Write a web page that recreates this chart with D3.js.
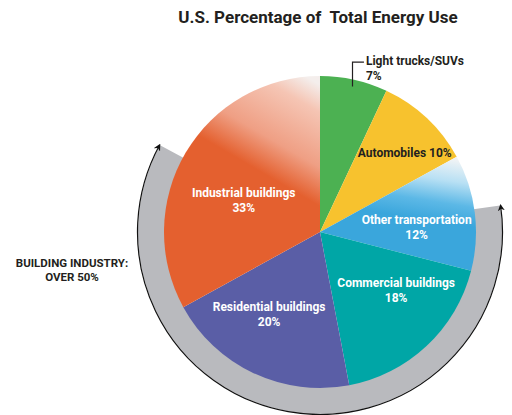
<!DOCTYPE html>
<html>
<head>
<meta charset="utf-8">
<script src="https://cdn.jsdelivr.net/npm/d3@7"></script>
<style>
	body { margin: 0; background: #fff; }
	svg text { font-family: "Liberation Sans Narrow", "Roboto", sans-serif; font-weight: bold; white-space: pre; }
</style>
</head>
<body>
<div id="chart"></div>
<script>
// U.S. share of total energy use, by sector (pie + building bracket)

const categories = ["Light trucks/SUVs", "Automobiles", "Other transportation", "Commercial buildings", "Residential buildings", "Industrial buildings"];
const values = [7, 10, 12, 18, 20, 33];
const titleText = "U.S. Percentage of  Total Energy Use";
const bracketLabel = ["BUILDING INDUSTRY:", "OVER 50%"];

const width = 512, height = 415;
const cx = 320, cy = 232, radius = 156, ringOuter = 182;

const colors = ["#4cb152", "#f7c22e", "url(#gradBlue)", "#00a6a6", "#5a5ea6", "url(#gradOrange)"];
const textColors = ["#231f20", "#231f20", "#fff", "#fff", "#fff", "#fff"];
// label anchor in polar coords around pie centre: angle (deg), radius
const labelPos = [
	{ a: 15.4, r: 173, anchor: "start", inline: false },
	{ a: 48.6, r: 113, anchor: "middle", inline: true },
	{ a: 85.3, r: 97, anchor: "middle", inline: false },
	{ a: 125.9, r: 94, anchor: "middle", inline: false },
	{ a: 212.8, r: 94, anchor: "middle", inline: false },
	{ a: 294.7, r: 84, anchor: "middle", inline: false }
];

const rad = d => d * Math.PI / 180;

let svg = d3.select("#chart")
	.append("svg")
	.attr("width", width)
	.attr("height", height)
	.attr("viewBox", [0, 0, width, height]);

let defs = svg.append("defs");

// gradients are in the pie group's coords (origin = pie centre)
let gOrange = defs.append("linearGradient")
	.attr("id", "gradOrange")
	.attr("gradientUnits", "userSpaceOnUse")
	.attr("x1", -65).attr("y1", -47).attr("x2", -5).attr("y2", -150);
[[0, "#e4602f"], [0.12, "#e4602f"], [0.4, "#ef9f84"], [0.8, "#f5c5b4"], [1, "#f4eeec"]]
	.forEach(s => gOrange.append("stop").attr("offset", s[0]).attr("stop-color", s[1]));

let gBlue = defs.append("linearGradient")
	.attr("id", "gradBlue")
	.attr("gradientUnits", "userSpaceOnUse")
	.attr("x1", 130).attr("y1", -74).attr("x2", 120).attr("y2", -10);
[[0, "#f2f4f5"], [0.35, "#b8e0f4"], [0.7, "#5cb8e6"], [1, "#3aa6dc"]]
	.forEach(s => gBlue.append("stop").attr("offset", s[0]).attr("stop-color", s[1]));

defs.append("marker")
	.attr("id", "arrow")
	.attr("viewBox", "0 -5 10 10")
	.attr("refX", 8)
	.attr("refY", 0)
	.attr("markerWidth", 7)
	.attr("markerHeight", 7)
	.attr("markerUnits", "userSpaceOnUse")
	.attr("orient", "auto-start-reverse")
	.append("path")
	.attr("d", "M0,-5L10,0L0,5L3,0Z")
	.attr("fill", "#111");

// title
svg.append("text")
	.attr("x", 318)
	.attr("y", 23)
	.attr("text-anchor", "middle")
	.attr("font-size", 17)
	.attr("fill", "#231f20")
	.text(titleText);

let g = svg.append("g").attr("transform", `translate(${cx},${cy})`);

// gray bracket ring round the building slices
const ringStart = rad(81.6), ringEnd = rad(298.5);
g.append("path")
	.attr("d", d3.arc()({ innerRadius: radius - 1, outerRadius: ringOuter, startAngle: ringStart, endAngle: ringEnd }))
	.attr("fill", "#b9babe");

let bracket = d3.path();
bracket.arc(0, 0, ringOuter + 0.5, ringStart - Math.PI / 2, ringEnd - Math.PI / 2);
g.append("path")
	.attr("d", bracket.toString())
	.attr("fill", "none")
	.attr("stroke", "#111")
	.attr("stroke-width", 1.2)
	.attr("marker-start", "url(#arrow)")
	.attr("marker-end", "url(#arrow)");

let pie = d3.pie().sort(null).value(d => d);
let arcs = pie(values);
let arc = d3.arc().innerRadius(0).outerRadius(radius);

g.selectAll("path.slice")
	.data(arcs)
	.join("path")
	.attr("class", "slice")
	.attr("d", arc)
	.attr("fill", (d, i) => colors[i]);

// slice labels
arcs.forEach((d, i) => {
	let p = labelPos[i];
	let [x, y] = d3.pointRadial(rad(p.a), p.r);
	let t = g.append("text")
		.attr("x", x)
		.attr("y", y)
		.attr("text-anchor", p.anchor)
		.attr("font-size", 12)
		.attr("fill", textColors[i]);
	if (p.inline) {
		t.text(`${categories[i]} ${values[i]}%`);
	} else {
		t.append("tspan").text(categories[i]);
		t.append("tspan").attr("x", x).attr("dy", 15).text(`${values[i]}%`);
	}
});

// leader line for the small slice
let mid = (arcs[0].startAngle + arcs[0].endAngle) / 2;
let [lx, ly] = d3.pointRadial(mid, radius - 7);
let [tx, ty] = d3.pointRadial(rad(labelPos[0].a), labelPos[0].r);
g.append("path")
	.attr("d", `M${lx},${ly}V${ty - 3}H${tx - 2}`)
	.attr("fill", "none")
	.attr("stroke", "#231f20")
	.attr("stroke-width", 1.2);

// bracket label
let bl = svg.append("text")
	.attr("x", 72)
	.attr("y", 267)
	.attr("text-anchor", "middle")
	.attr("font-size", 11.5)
	.attr("fill", "#231f20");
bl.append("tspan").text(bracketLabel[0]);
bl.append("tspan").attr("x", 72).attr("dy", 14).text(bracketLabel[1]);
</script>
</body>
</html>
